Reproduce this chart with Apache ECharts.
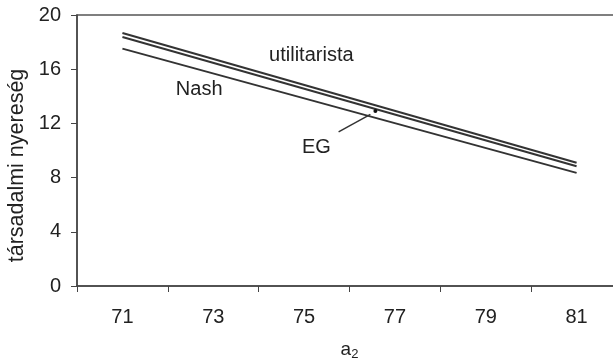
<!DOCTYPE html>
<html>
<head>
<meta charset="utf-8">
<script src="https://cdn.jsdelivr.net/npm/echarts@6/dist/echarts.min.js"></script>
<style>
  html, body { margin: 0; padding: 0; background: #fff; }
  #chart { width: 613px; height: 362px; }
</style>
</head>
<body>
<div id="chart"></div>
<script>
// values
const xEnds = [71, 81];
const utilitarista = [18.67, 9.09];
const egLine = [18.37, 8.84];
const nash = [17.52, 8.35];
const xTickLabels = [71, 73, 75, 77, 79, 81];
const yTicks = [0, 4, 8, 12, 16, 20];

// annotations, in data units
const egPoint = [76.57, 12.92];
const egArrow = [[75.76, 11.37], [76.46, 12.67]];
const notes = [
  { text: 'utilitarista', at: [75.16, 17.02] },
  { text: 'Nash', at: [72.69, 14.52] },
  { text: 'EG', at: [75.27, 10.21] },
];

const ink = '#333';
const font = 'Liberation Sans, Arial, sans-serif';

const chart = echarts.init(document.getElementById('chart'));

const pairs = (ys) => xEnds.map((x, i) => [x, ys[i]]);

const lineSeries = (name, ys, extra) => Object.assign({
  name,
  type: 'line',
  data: pairs(ys),
  showSymbol: false,
  symbol: 'none',
  silent: true,
  lineStyle: { color: ink, width: 2 },
}, extra || {});

// the plot area runs past the right edge of the picture (cut off there)
const option = {
  animation: false,
  textStyle: { fontFamily: font },
  grid: {
    left: 77, top: 15, width: 545, height: 271,
    outerBoundsMode: 'none',
    show: true, borderColor: '#555', borderWidth: 1.5,
  },
  xAxis: [
    {
      type: 'value', min: 70, max: 82, interval: 2,
      axisLine: { lineStyle: { color: '#444', width: 1.5 } },
      axisTick: { show: true, length: 6, lineStyle: { color: '#444' } },
      axisLabel: { show: false },
      splitLine: { show: false },
      name: '{a|a}{s|2}',
      nameLocation: 'middle',
      nameGap: 53,
      nameTextStyle: {
        rich: {
          a: { fontSize: 19, color: '#222', fontFamily: font },
          s: { fontSize: 13, color: '#222', fontFamily: font, padding: [9, 0, 0, 0] },
        },
      },
    },
    {
      type: 'value', min: 70, max: 82, interval: 1,
      position: 'bottom',
      axisLine: { show: false },
      axisTick: { show: false },
      splitLine: { show: false },
      axisLabel: {
        fontSize: 20, color: '#222', margin: 21,
        formatter: (v) => (xTickLabels.includes(v) ? String(v) : ''),
      },
    },
  ],
  yAxis: {
    type: 'value', min: 0, max: 20, interval: 4,
    axisLine: { show: true, lineStyle: { color: '#444', width: 1.5 } },
    axisTick: { show: true, length: 6, lineStyle: { color: '#444' } },
    axisLabel: {
      fontSize: 20, color: '#222', margin: 16,
      formatter: (v) => (yTicks.includes(v) ? String(v) : ''),
    },
    splitLine: { show: false },
    name: 'társadalmi nyereség',
    nameLocation: 'middle',
    nameGap: 47,
    nameTextStyle: { fontSize: 21.5, color: '#222', padding: [0, 30, 0, 0] },
  },
  series: [
    lineSeries('utilitarista', utilitarista),
    lineSeries('EG', egLine, {
      markPoint: {
        symbol: 'circle',
        symbolSize: 4,
        itemStyle: { color: '#111' },
        label: { show: false },
        data: [{ coord: egPoint }],
      },
      markLine: {
        silent: true,
        symbol: 'none',
        lineStyle: { color: ink, width: 1.5, type: 'solid' },
        label: { show: false },
        data: [[{ coord: egArrow[0] }, { coord: egArrow[1] }]],
      },
    }),
    lineSeries('Nash', nash, {
      markPoint: {
        symbol: 'circle',
        symbolSize: 0,
        label: {
          show: true,
          position: 'inside',
          fontSize: 20,
          color: '#222',
          formatter: (p) => p.name,
        },
        data: notes.map((n) => ({ name: n.text, coord: n.at })),
      },
    }),
  ],
};

chart.setOption(option);
</script>
</body>
</html>
